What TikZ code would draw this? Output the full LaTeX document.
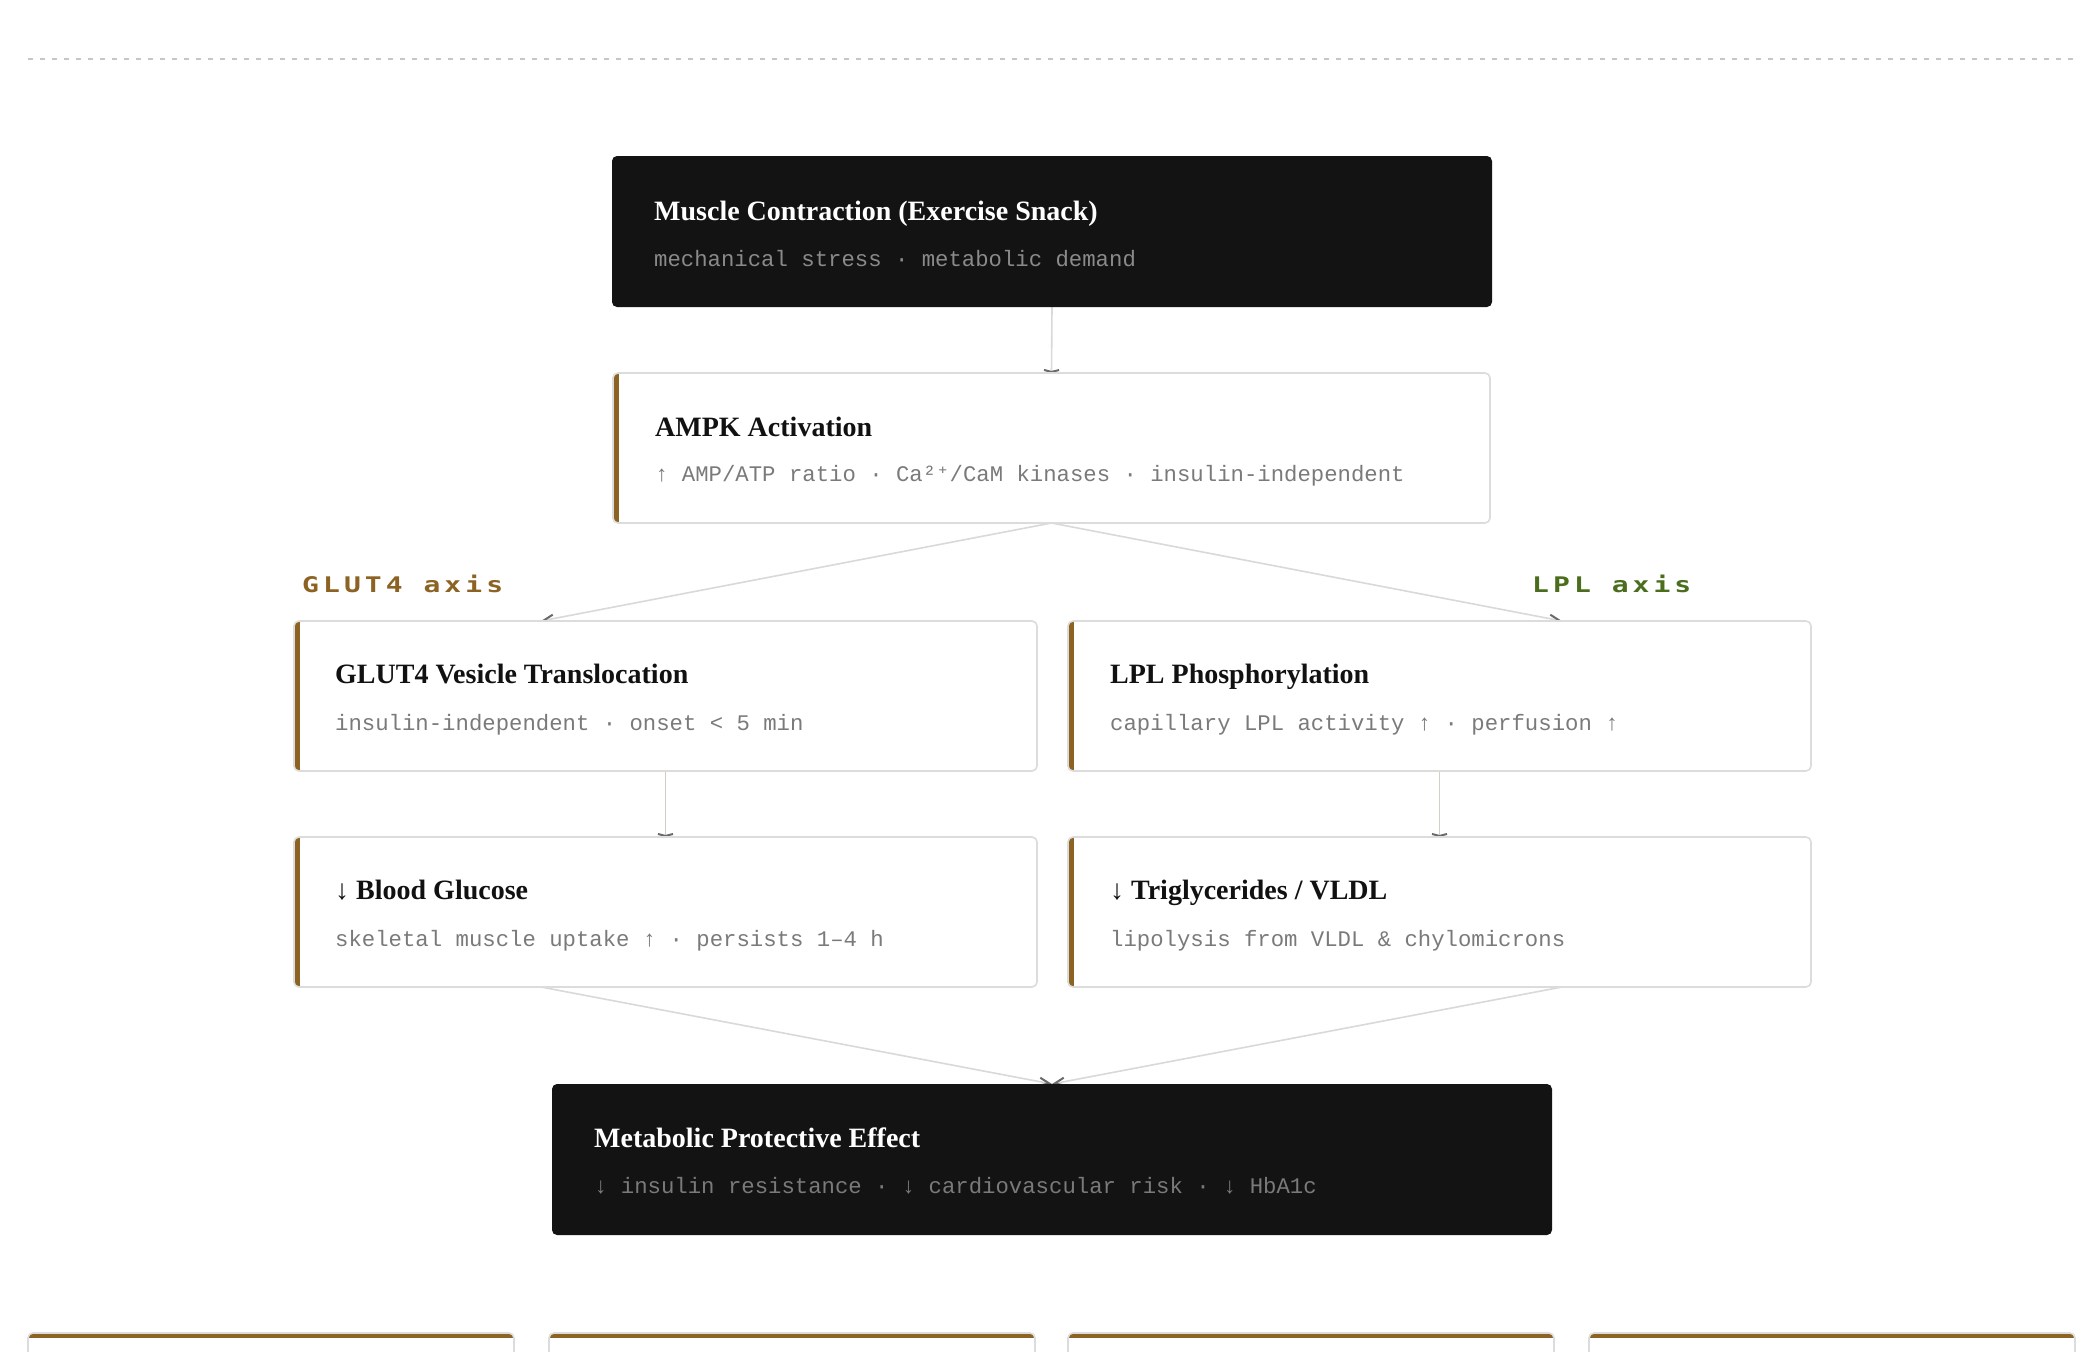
\documentclass[tikz,border=0pt]{standalone}
\usepackage{fontspec}
\setmainfont{Liberation Serif}
\newfontfamily\monof{Liberation Mono}
\newfontfamily\djmono{DejaVu Sans Mono}
\newfontfamily\axisf[FakeStretch=1.3, LetterSpace=19]{DejaVu Sans Mono}
\usetikzlibrary{arrows.meta}
\pgfdeclarelayer{back}
\pgfdeclarelayer{bg}
\pgfsetlayers{back,bg,main}
\definecolor{cdark}{HTML}{131313}
\definecolor{cbrown}{HTML}{8C6322}
\definecolor{cgreen}{HTML}{4B6E1E}
\definecolor{cborder}{HTML}{DCDCDC}
\definecolor{cline}{HTML}{D9D9D9}
\definecolor{clinebr}{HTML}{D6CCBE}
\definecolor{clinegr}{HTML}{CFD2C4}
\definecolor{carrow}{HTML}{6A6A6A}
\definecolor{csubd}{HTML}{8A8A8A}
\definecolor{csubl}{HTML}{7A7A7A}
\definecolor{cdash}{HTML}{C6C6C6}
\definecolor{cink}{HTML}{111111}
\tikzset{
  darkbox/.style={fill=cdark, rounded corners=5pt, inner sep=0pt, outer sep=0pt, anchor=north west},
  cardbox/.style={fill=white, rounded corners=5pt, inner sep=0pt, outer sep=0pt, anchor=north west},
  cardline/.style={draw=cborder, line width=1.6pt, rounded corners=5pt},
  ttl/.style={font=\fontsize{28}{32}\selectfont\bfseries, text=cink, inner sep=0pt, anchor=base west},
  ttlw/.style={ttl, text=white},
  sub/.style={font=\fontsize{22.3}{26}\monof, text=csubl, inner sep=0pt, anchor=base west},
  subd/.style={sub, text=csubd},
  axislbl/.style={font=\fontsize{21.5}{25}\axisf\bfseries, inner sep=0pt, anchor=base west},
  conn/.style={draw=cline, line width=1.6pt},
  flatarrow/.style={-{Straight Barb[length=2pt, width=15pt, line width=2pt, color=carrow]}},
  slantarrow/.style={-{Straight Barb[length=10pt, width=8pt, line width=2pt, color=carrow]}},
}
\newcommand\lightcard[5]{%
  \node[cardbox, minimum width=#4pt, minimum height=#5pt] (#1) at (#2,#3) {};
  \begin{scope}
    \clip[rounded corners=5pt] (#1.north west) rectangle (#1.south east);
    \fill[cbrown] (#1.north west) rectangle ([xshift=6pt]#1.south west);
  \end{scope}
  \draw[cardline] (#1.north west) rectangle (#1.south east);
}
\newcommand\bottomcard[2]{%
  \node[cardbox, minimum width=486pt, minimum height=40pt] (#1) at (#2,1333) {};
  \begin{scope}
    \clip[rounded corners=5pt] (#1.north west) rectangle (#1.south east);
    \fill[cbrown] (#1.north west) rectangle ([yshift=-5pt]#1.north east);
  \end{scope}
  \draw[cardline] (#1.north west) rectangle (#1.south east);
}
\begin{document}
\begin{tikzpicture}[x=1pt, y=-1pt]
\useasboundingbox (0,0) rectangle (2094,1352);
\begin{pgfonlayer}{back}
\fill[white] (0,0) rectangle (2094,1352);
\end{pgfonlayer}
% top dashed rule
\draw[cdash, line width=2pt, dash pattern=on 5pt off 7pt] (28,59) -- (2077,59);

% boxes
\node[darkbox, minimum width=880pt, minimum height=151pt] (top) at (612,156) {};
\node[ttlw] (top-t) at (654,220) {Muscle Contraction (Exercise Snack)};
\node[subd] (top-s) at (654,266) {mechanical stress · metabolic demand};

\lightcard{ampk}{613}{373}{877}{150}
\node[ttl] (ampk-t) at (655,436) {AMPK Activation};
\node[sub] (ampk-s) at (655,481) {↑ AMP/ATP ratio · Ca²{\djmono ⁺}/CaM kinases · insulin-independent};

\lightcard{glut}{294}{621}{743}{150}
\node[ttl] (glut-t) at (335,683) {GLUT4 Vesicle Translocation};
\node[sub] (glut-s) at (335,730) {insulin-independent · onset < 5 min};

\lightcard{lpl}{1068}{621}{743}{150}
\node[ttl] (lpl-t) at (1110,683) {LPL Phosphorylation};
\node[sub] (lpl-s) at (1110,730) {capillary LPL activity ↑ · perfusion ↑};

\lightcard{blood}{294}{837}{743}{150}
\node[ttl] (blood-t) at (335,899) {↓ Blood Glucose};
\node[sub] (blood-s) at (335,946) {skeletal muscle uptake ↑ · persists 1–4 h};

\lightcard{trig}{1068}{837}{743}{150}
\node[ttl] (trig-t) at (1110,899) {↓ Triglycerides / VLDL};
\node[sub] (trig-s) at (1110,946) {lipolysis from VLDL \& chylomicrons};

\node[darkbox, minimum width=1000pt, minimum height=151pt] (final) at (552,1084) {};
\node[ttlw] (final-t) at (594,1147) {Metabolic Protective Effect};
\node[subd, text=csubl] (final-s) at (594,1193) {↓ insulin resistance · ↓ cardiovascular risk · ↓ HbA1c};

% axis labels
\node[axislbl, text=cbrown] (glut-ax) at (302,592) {GLUT4 axis};
\node[axislbl, text=cgreen] (lpl-ax) at (1532,592) {LPL axis};

% bottom cards
\bottomcard{c1}{28}
\bottomcard{c2}{549}
\bottomcard{c3}{1068}
\bottomcard{c4}{1589}

% connector end points
\coordinate (g-in) at (541,621);
\coordinate (l-in) at (1562,621);
\coordinate (b-out) at (541,987);
\coordinate (t-out) at (1562,987);

\begin{pgfonlayer}{bg}
\draw[conn, flatarrow] (top.south) -- (ampk.north);
\draw[conn, slantarrow] (ampk.south) -- (g-in);
\draw[conn, slantarrow] (ampk.south) -- (l-in);
\draw[conn, draw=clinebr, flatarrow] (glut.south) -- (blood.north);
\draw[conn, draw=clinegr, flatarrow] (lpl.south) -- (trig.north);
\draw[conn, slantarrow] (b-out) -- (final.north);
\draw[conn, slantarrow] (t-out) -- (final.north);
\end{pgfonlayer}
\end{tikzpicture}
\end{document}
